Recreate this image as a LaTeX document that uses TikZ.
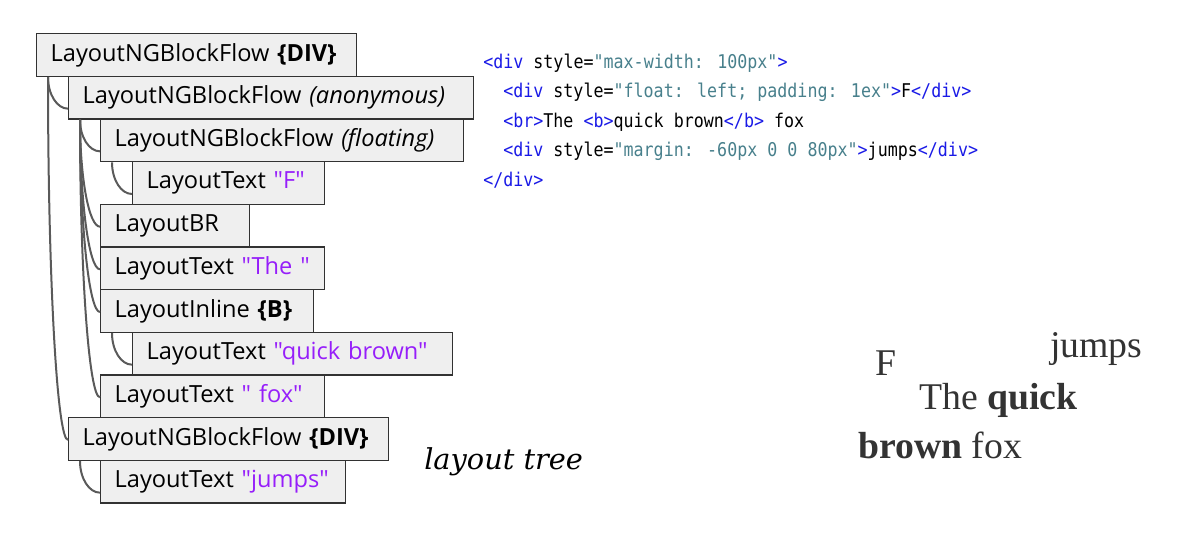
\documentclass[tikz,border=0pt]{standalone}
\usepackage{fontspec}
\setsansfont{Open Sans}[Ligatures=TeXOff]
\newfontfamily\codefont{DejaVu Sans Mono}[FakeStretch=0.88]
\newfontfamily\pagefont{Liberation Serif}
\newfontfamily\notefont{DejaVu Serif}
\usetikzlibrary{calc}

\definecolor{boxfill}{RGB}{239,239,239}
\definecolor{boxline}{RGB}{50,50,50}
\definecolor{linkgray}{RGB}{90,90,90}
\definecolor{strviolet}{RGB}{150,30,250}
\definecolor{tagblue}{RGB}{26,26,230}
\definecolor{attrval}{RGB}{72,128,140}

\newcommand{\str}[1]{\textcolor{strviolet}{#1}}
\newcommand{\tg}[1]{\textcolor{tagblue}{#1}}
\newcommand{\av}[1]{\textcolor{attrval}{#1}}

\begin{document}
\begin{tikzpicture}[
    x=0.75pt, y=-0.75pt,
    box/.style={rectangle, draw=boxline, fill=boxfill, line width=1pt, anchor=north west,
        minimum height=32pt, inner xsep=10.5pt, inner ysep=0pt, align=left,
        font=\sffamily\fontsize{17.7}{20}\selectfont},
    link/.style={draw=linkgray, line width=1.5pt},
    code/.style={anchor=base west, inner sep=0pt, font=\codefont\fontsize{14.2}{16}\selectfont},
    page/.style={anchor=base west, inner sep=0pt, text=black!80, font=\pagefont\fontsize{28.3}{32}\selectfont}
]
\useasboundingbox (0,0) rectangle (1204,550);

% --- layout tree ---
\node[box, text width=219pt]    (B1)  at (36,33)     {LayoutNGBlockFlow \textbf{\{DIV\}}};
\node[box, text width=282.75pt] (B2)  at (68,75.67)  {LayoutNGBlockFlow \textit{(anonymous)}};
\node[box, text width=251.25pt] (B3)  at (100,118.33) {LayoutNGBlockFlow \textit{(floating)}};
\node[box, text width=123pt]    (B4)  at (132,161)   {LayoutText \str{"F"}};
\node[box, text width=90.75pt]  (B5)  at (100,203.67) {LayoutBR};
\node[box, text width=147pt]    (B6)  at (100,246.33) {LayoutText \str{"The "}};
\node[box, text width=138.75pt] (B7)  at (100,289)   {LayoutInline \textbf{\{B\}}};
\node[box, text width=219pt]    (B8)  at (132,331.67) {LayoutText \str{"quick brown"}};
\node[box, text width=147pt]    (B9)  at (100,374.33) {LayoutText \str{" fox"}};
\node[box, text width=219pt]    (B10) at (68,417)    {LayoutNGBlockFlow \textbf{\{DIV\}}};
\node[box, text width=162.75pt] (B11) at (100,459.67) {LayoutText \str{"jumps"}};

% parent -> child links
\foreach \p/\c/\l in {B1/B2/11, B1/B10/21, B2/B3/11, B2/B5/21, B2/B6/21, B2/B7/21,
                      B2/B9/21, B3/B4/11, B7/B8/11, B10/B11/11} {
    \path ($(\c.south west)+(0,-\l)$) coordinate (e)
          ($(\p.south west)+(12,0)$) coordinate (s);
    \draw[link] (s) .. controls ($(s)!0.55!(s |- e)$) and ($(e)!0.55!(s |- e)$) .. (e);
}

\node[anchor=base west, inner sep=0pt, font=\notefont\itshape\fontsize{21.6}{24}\selectfont]
    (caption) at (424,469) {layout tree};

% --- source ---
\node[code] (L1) at (483,68)    {\tg{<div} style=\av{"max-width: 100px"}\tg{>}};
\node[code] (L2) at (503,97.5)  {\tg{<div} style=\av{"float: left; padding: 1ex"}\tg{>}F\tg{</div>}};
\node[code] (L3) at (503,127)   {\tg{<br>}The \tg{<b>}quick brown\tg{</b>} fox};
\node[code] (L4) at (503,156.5) {\tg{<div} style=\av{"margin: -60px 0 0 80px"}\tg{>}jumps\tg{</div>}};
\node[code] (L5) at (483,186)   {\tg{</div>}};

% --- rendering ---
\node[page] (rF)     at (875,375)  {F};
\node[page] (rJumps) at (1050,357) {jumps};
\node[page] (rThe)   at (919,409)  {The \textbf{quick}};
\node[page] (rBrown) at (858,458)  {\textbf{brown} fox};
\end{tikzpicture}
\end{document}
